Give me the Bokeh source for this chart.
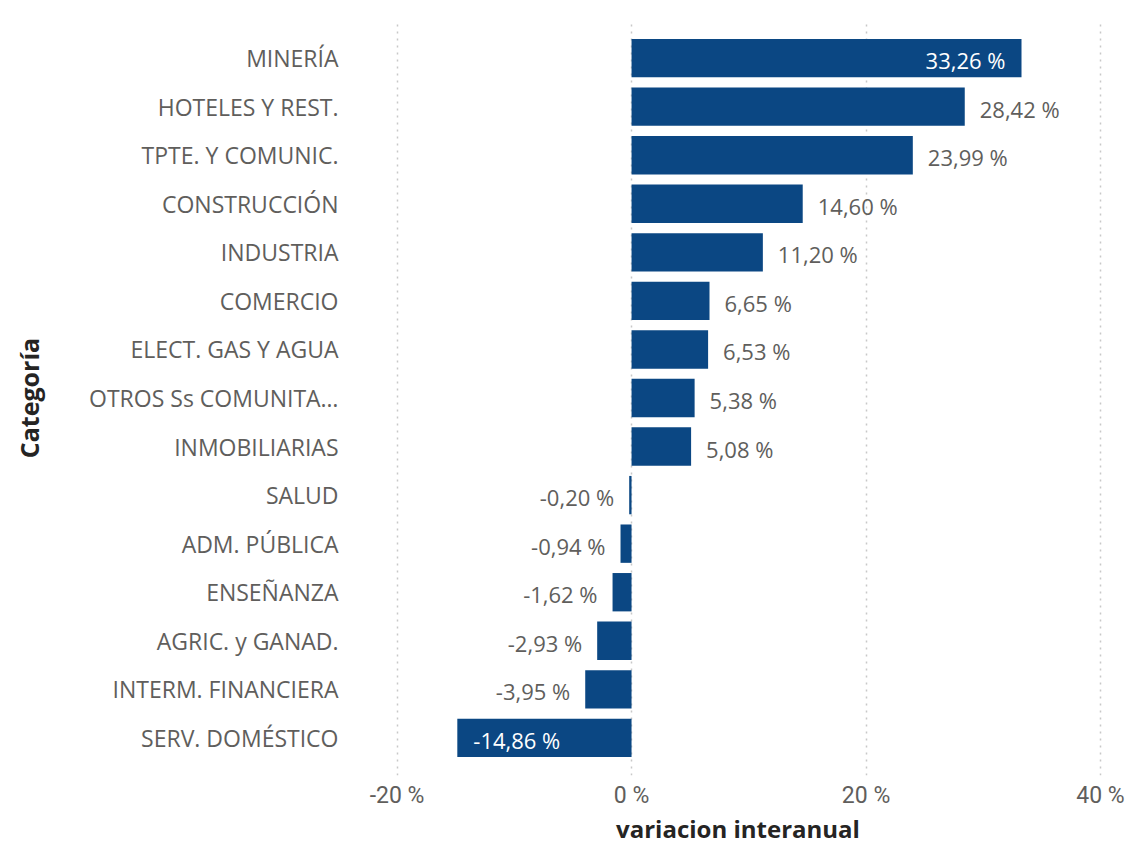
from bokeh.plotting import figure
from bokeh.models import ColumnDataSource, Range1d, FactorRange, FixedTicker
from bokeh.core.properties import value
from bokeh.embed import file_html
from bokeh.resources import INLINE

categories = ["MINERÍA", "HOTELES Y REST.", "TPTE. Y COMUNIC.", "CONSTRUCCIÓN",
              "INDUSTRIA", "COMERCIO", "ELECT. GAS Y AGUA", "OTROS Ss COMUNITA…",
              "INMOBILIARIAS", "SALUD", "ADM. PÚBLICA", "ENSEÑANZA",
              "AGRIC. y GANAD.", "INTERM. FINANCIERA", "SERV. DOMÉSTICO"]
values = [33.26, 28.42, 23.99, 14.60, 11.20, 6.65, 6.53, 5.38, 5.08,
          -0.20, -0.94, -1.62, -2.93, -3.95, -14.86]
x_ticks = [-20, 0, 20, 40]
x_tick_labels = ["-20 %", "0 %", "20 %", "40 %"]
x_title = "variacion interanual"
y_title = "Categoría"

BAR = "#0b4783"
GRAY = "#605E5C"
DARK = "#252423"

labels, aligns, colors, offs = [], [], [], []
for v in values:
    labels.append(f"{v:.2f} %".replace(".", ","))
    inside = v > 30 or v < -10
    if v >= 0:
        aligns.append("right" if inside else "left")
        offs.append(-16 if inside else 15)
    else:
        aligns.append("left" if inside else "right")
        offs.append(16 if inside else -15)
    colors.append("white" if inside else GRAY)

src = ColumnDataSource(dict(cat=categories, val=values, lbl=labels,
                            align=aligns, col=colors, off=offs))

p = figure(y_range=FactorRange(factors=categories[::-1], range_padding=0.275,
                               range_padding_units="absolute"),
           x_range=Range1d(-23.97, 42.13),
           frame_width=775, frame_height=755,
           min_border_left=350, min_border_right=0, min_border_top=20,
           min_border_bottom=0,
           output_backend="svg", toolbar_location=None)
p.outline_line_color = None
p.background_fill_color = "white"
p.border_fill_color = "white"

p.hbar(y="cat", left=0, right="val", height=0.79, source=src,
       fill_color=BAR, line_color=None)
p.text(x="val", y="cat", text="lbl", source=src, text_align="align",
       text_color="col", x_offset="off", y_offset=2, text_baseline="middle",
       text_font=value("Open Sans"), text_font_size="22px")

p.xaxis.ticker = FixedTicker(ticks=x_ticks)
p.xaxis.major_label_overrides = {t: l for t, l in zip(x_ticks, x_tick_labels)}
p.xgrid.ticker = FixedTicker(ticks=x_ticks)
p.xgrid.grid_line_color = "#c8c8c8"
p.xgrid.grid_line_dash = "2 5"
p.xgrid.grid_line_width = 1.5
p.ygrid.grid_line_color = None

for ax in (p.xaxis, p.yaxis):
    ax.axis_line_color = None
    ax.major_tick_line_color = None
    ax.minor_tick_line_color = None

p.xaxis.major_label_text_font = "Roboto"
p.xaxis.major_label_text_font_size = "23px"
p.xaxis.major_label_text_color = GRAY
p.xaxis.major_label_standoff = 0
p.xaxis.axis_label = x_title
p.xaxis.axis_label_text_font = "Open Sans"
p.xaxis.axis_label_text_font_style = "bold"
p.xaxis.axis_label_text_font_size = "24px"
p.xaxis.axis_label_text_color = DARK
p.xaxis.axis_label_standoff = 0

p.yaxis.major_label_text_font = "Open Sans"
p.yaxis.major_label_text_font_size = "23px"
p.yaxis.major_label_text_color = GRAY
p.yaxis.major_label_standoff = 6
p.yaxis.axis_label = y_title
p.yaxis.axis_label_text_font = "Open Sans"
p.yaxis.axis_label_text_font_style = "bold"
p.yaxis.axis_label_text_font_size = "25px"
p.yaxis.axis_label_text_color = DARK
p.yaxis.axis_label_standoff = 40

open("out.html", "w").write(file_html(p, INLINE))
